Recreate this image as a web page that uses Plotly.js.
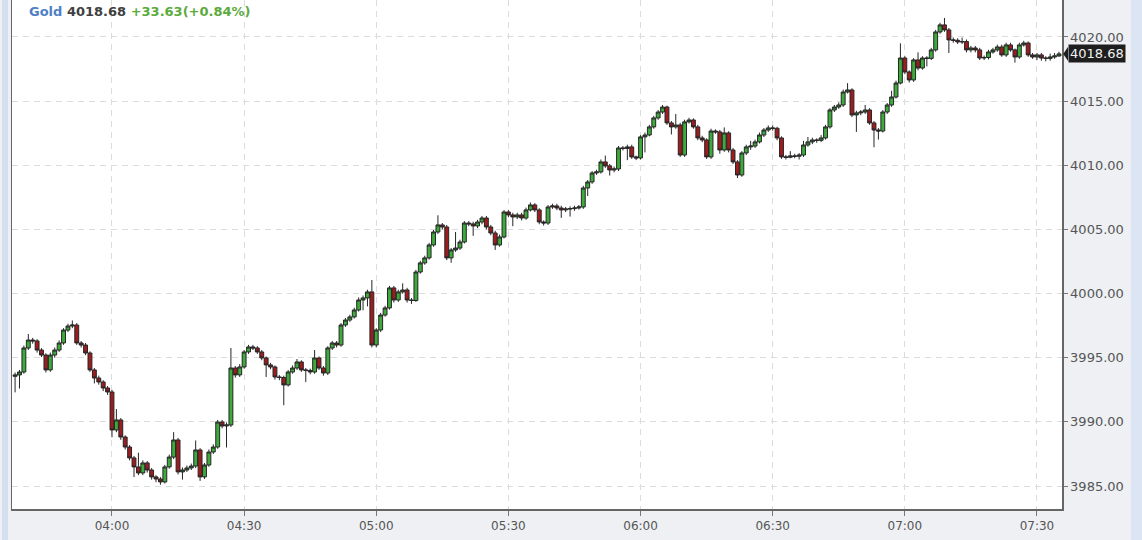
<!DOCTYPE html>
<html>
<head>
<meta charset="utf-8">
<script src="https://cdn.plot.ly/plotly-3.0.1.min.js"></script>
<style>
  html, body { margin: 0; padding: 0; background: #eef0f4; }
  #chart { width: 1142px; height: 540px; }
</style>
</head>
<body>
<div id="chart"></div>
<script>
// ---- data (1-minute candles, 03:38 -> 07:35) ----
const instrument = "Gold";
const lastPrice = 4018.68;
const change = 33.63;
const changePct = 0.84;
const sessionDate = "2025-10-21";
const firstMinute = "03:38";

const openP = [
3993.55,3993.66,3993.89,3995.76,3996.38,3996.31,3995.60,3995.21,3994.05,3995.21,
3995.60,3996.15,3997.16,3997.47,3997.55,3996.15,3995.99,3995.37,3994.05,3993.42,
3993.11,3992.64,3992.33,3989.37,3990.15,3988.82,3988.04,3987.19,3986.49,3986.02,
3986.80,3986.25,3985.71,3985.55,3985.32,3986.49,3987.26,3988.59,3986.10,3986.25,
3986.41,3986.56,3987.81,3985.71,3986.64,3987.65,3988.04,3989.99,3989.68,3989.76,
3994.20,3993.66,3994.28,3995.45,3995.84,3995.76,3995.45,3994.98,3994.44,3994.28,
3993.50,3993.46,3992.88,3993.89,3994.20,3994.67,3994.05,3994.01,3993.89,3994.98,
3994.20,3993.81,3995.76,3996.15,3995.99,3997.55,3997.94,3998.18,3998.72,3999.50,
3999.66,4000.13,3995.99,3997.16,3998.33,3998.88,4000.44,3999.50,4000.13,4000.28,
3999.50,3999.46,4001.68,4002.39,4002.78,4003.79,4004.80,4005.35,4005.19,4002.78,
4003.40,4003.55,4004.02,4005.50,4005.43,4005.27,4005.58,4005.89,4005.19,4004.72,
4003.79,4004.41,4006.36,4006.13,4005.97,4006.13,4005.89,4006.52,4006.91,4006.52,
4005.58,4005.50,4006.75,4006.83,4006.67,4006.52,4006.59,4006.62,4006.67,4006.75,
4008.23,4008.70,4009.40,4009.48,4010.26,4009.95,4009.63,4009.71,4011.35,4011.31,
4011.43,4010.65,4010.57,4012.21,4012.36,4012.99,4013.69,4014.15,4014.54,4013.30,
4012.99,4013.14,4010.80,4013.38,4013.53,4012.99,4012.13,4011.97,4010.65,4012.67,
4012.60,4011.19,4012.52,4011.19,4010.26,4009.24,4010.96,4011.43,4011.50,4011.82,
4012.36,4012.75,4012.91,4012.88,4012.13,4010.65,4010.62,4010.73,4010.70,4010.80,
4011.58,4011.82,4011.97,4011.94,4012.13,4012.99,4014.31,4014.54,4014.70,4015.71,
4015.87,4013.92,4014.08,4014.15,4014.31,4013.30,4012.75,4012.67,4014.15,4014.70,
4015.32,4016.41,4018.36,4017.27,4016.65,4018.21,4017.58,4018.36,4018.33,4018.99,
4020.39,4020.94,4020.55,4019.77,4019.74,4019.61,4019.64,4018.99,4019.14,4018.99,
4018.36,4018.40,4018.83,4018.99,4019.22,4018.60,4019.38,4018.99,4018.44,4019.38,
4019.53,4018.60,4018.44,4018.60,4018.36,4018.33,4018.44,4018.52
];

const closeP = [
3993.66,3993.89,3995.76,3996.38,3996.31,3995.60,3995.21,3994.05,3995.21,3995.60,
3996.15,3997.16,3997.47,3997.55,3996.15,3995.99,3995.37,3994.05,3993.42,3993.11,
3992.64,3992.33,3989.37,3990.15,3988.82,3988.04,3987.19,3986.49,3986.02,3986.80,
3986.25,3985.71,3985.55,3985.32,3986.49,3987.26,3988.59,3986.10,3986.25,3986.41,
3986.56,3987.81,3985.71,3986.64,3987.65,3988.04,3989.99,3989.68,3989.76,3994.20,
3993.66,3994.28,3995.45,3995.84,3995.76,3995.45,3994.98,3994.44,3994.28,3993.50,
3993.46,3992.88,3993.89,3994.20,3994.67,3994.05,3994.01,3993.89,3994.98,3994.20,
3993.81,3995.76,3996.15,3995.99,3997.55,3997.94,3998.18,3998.72,3999.50,3999.66,
4000.13,3995.99,3997.16,3998.33,3998.88,4000.44,3999.50,4000.13,4000.28,3999.50,
3999.46,4001.68,4002.39,4002.78,4003.79,4004.80,4005.35,4005.19,4002.78,4003.40,
4003.55,4004.02,4005.50,4005.43,4005.27,4005.58,4005.89,4005.19,4004.72,4003.79,
4004.41,4006.36,4006.13,4005.97,4006.13,4005.89,4006.52,4006.91,4006.52,4005.58,
4005.50,4006.75,4006.83,4006.67,4006.52,4006.59,4006.62,4006.67,4006.75,4008.23,
4008.70,4009.40,4009.48,4010.26,4009.95,4009.63,4009.71,4011.35,4011.31,4011.43,
4010.65,4010.57,4012.21,4012.36,4012.99,4013.69,4014.15,4014.54,4013.30,4012.99,
4013.14,4010.80,4013.38,4013.53,4012.99,4012.13,4011.97,4010.65,4012.67,4012.60,
4011.19,4012.52,4011.19,4010.26,4009.24,4010.96,4011.43,4011.50,4011.82,4012.36,
4012.75,4012.91,4012.88,4012.13,4010.65,4010.62,4010.73,4010.70,4010.80,4011.58,
4011.82,4011.97,4011.94,4012.13,4012.99,4014.31,4014.54,4014.70,4015.71,4015.87,
4013.92,4014.08,4014.15,4014.31,4013.30,4012.75,4012.67,4014.15,4014.70,4015.32,
4016.41,4018.36,4017.27,4016.65,4018.21,4017.58,4018.36,4018.33,4018.99,4020.39,
4020.94,4020.55,4019.77,4019.74,4019.61,4019.64,4018.99,4019.14,4018.99,4018.36,
4018.40,4018.83,4018.99,4019.22,4018.60,4019.38,4018.99,4018.44,4019.38,4019.53,
4018.60,4018.44,4018.60,4018.36,4018.33,4018.44,4018.52,4018.68
];

const highP = [
3993.85,3994.05,3995.95,3996.85,3996.55,3996.45,3995.75,3995.35,3995.40,3995.80,
3996.35,3997.30,3997.65,3997.90,3997.70,3996.30,3996.15,3995.50,3994.20,3993.60,
3993.25,3992.80,3992.50,3991.00,3990.30,3988.95,3988.20,3987.35,3987.60,3987.00,
3986.95,3986.40,3985.85,3985.70,3986.65,3987.45,3989.20,3988.75,3986.45,3986.60,
3986.75,3988.55,3987.95,3986.80,3987.85,3988.25,3990.15,3990.15,3989.95,3995.76,
3994.35,3994.50,3995.60,3996.00,3996.00,3995.90,3995.60,3995.10,3994.60,3994.40,
3993.65,3993.60,3994.05,3994.40,3994.90,3994.80,3994.20,3994.15,3995.60,3995.10,
3994.35,3995.90,3996.30,3996.30,3997.70,3998.10,3998.35,3998.90,3999.70,3999.85,
4000.30,4001.06,3997.30,3998.50,3999.05,4000.60,4000.60,4000.30,4000.80,4000.45,
3999.65,4001.85,4002.55,4002.95,4003.95,4004.95,4006.10,4005.50,4005.35,4003.55,
4004.80,4004.20,4005.65,4005.65,4005.60,4005.75,4006.05,4006.05,4005.35,4004.90,
4004.60,4006.50,4006.50,4006.30,4006.30,4006.30,4006.70,4007.10,4007.05,4006.65,
4005.70,4006.90,4007.00,4007.00,4006.85,4006.75,4006.80,4006.85,4006.90,4008.40,
4008.85,4009.55,4009.65,4010.45,4010.75,4010.10,4009.90,4011.50,4011.50,4011.60,
4011.60,4010.75,4012.35,4012.55,4013.15,4013.85,4014.30,4014.70,4014.65,4013.45,
4014.00,4013.30,4013.55,4013.70,4013.65,4013.15,4012.30,4012.10,4012.85,4012.80,
4012.75,4012.95,4012.65,4011.35,4010.40,4011.10,4011.60,4011.90,4012.00,4012.55,
4012.90,4013.10,4013.10,4013.00,4012.25,4010.80,4011.10,4010.90,4010.95,4011.90,
4012.20,4012.15,4012.10,4012.35,4013.15,4014.45,4014.70,4014.90,4015.90,4016.40,
4016.00,4014.25,4014.30,4014.70,4014.45,4013.45,4012.90,4014.30,4014.85,4015.80,
4016.60,4019.50,4018.50,4017.40,4018.35,4018.80,4018.50,4018.50,4019.15,4020.55,
4021.10,4021.48,4020.70,4019.95,4019.90,4019.95,4019.80,4019.30,4019.30,4019.15,
4018.55,4019.00,4019.15,4019.40,4019.40,4019.55,4019.55,4019.10,4019.55,4019.70,
4019.65,4018.75,4018.75,4018.75,4018.50,4018.70,4018.75,4018.85
];

const lowP = [
3992.30,3992.60,3993.75,3995.60,3996.10,3995.40,3995.05,3993.85,3993.90,3995.00,
3995.45,3996.00,3997.00,3997.30,3996.00,3995.80,3995.20,3993.90,3993.00,3992.90,
3992.40,3992.10,3988.80,3989.20,3988.60,3987.85,3987.00,3985.70,3985.85,3985.85,
3986.05,3985.50,3985.30,3985.10,3985.20,3986.35,3987.10,3985.90,3985.50,3986.10,
3986.25,3986.40,3985.40,3985.55,3986.50,3987.50,3987.90,3989.50,3988.00,3989.60,
3993.45,3993.50,3994.15,3995.30,3995.60,3995.30,3994.80,3993.50,3994.10,3993.30,
3993.25,3991.30,3992.75,3993.75,3994.05,3993.90,3993.10,3993.70,3993.75,3994.05,
3993.60,3993.65,3995.60,3995.80,3995.85,3997.40,3997.80,3998.05,3998.60,3998.70,
3999.00,3995.80,3995.80,3997.00,3998.20,3998.75,3999.30,3999.35,4000.00,3999.30,
3999.20,3999.35,4001.55,4002.25,4002.65,4003.65,4004.65,4005.00,4002.60,4002.40,
4003.25,4003.40,4003.90,4005.25,4004.50,4005.10,4005.40,4005.00,4004.55,4003.40,
4003.65,4004.30,4005.95,4005.25,4005.80,4005.70,4005.75,4006.40,4006.35,4005.40,
4005.30,4005.35,4006.60,4006.50,4005.90,4006.35,4006.00,4006.45,4006.55,4006.60,
4007.60,4008.55,4009.25,4009.35,4009.80,4009.20,4009.45,4009.55,4011.15,4010.40,
4010.50,4010.40,4010.45,4011.00,4012.25,4012.85,4013.55,4014.00,4013.15,4012.40,
4012.85,4010.65,4010.65,4013.25,4012.85,4011.95,4011.80,4010.50,4010.50,4012.45,
4010.90,4011.05,4011.00,4010.10,4009.00,4009.10,4010.80,4011.20,4011.35,4011.70,
4012.20,4012.60,4012.70,4011.95,4010.50,4010.45,4010.55,4010.55,4010.45,4010.65,
4011.45,4011.65,4011.75,4011.80,4012.00,4012.85,4014.15,4014.40,4014.55,4015.60,
4013.75,4012.60,4013.90,4014.00,4013.15,4011.40,4012.00,4012.55,4014.00,4014.55,
4015.20,4016.30,4017.10,4016.45,4016.50,4017.40,4017.45,4017.70,4018.20,4018.85,
4020.25,4020.40,4018.75,4019.55,4019.45,4019.45,4018.80,4018.80,4018.80,4018.20,
4018.20,4018.25,4018.70,4018.85,4018.45,4018.45,4018.85,4018.00,4018.30,4019.25,
4018.45,4018.30,4018.20,4018.15,4018.10,4018.15,4018.30,4018.45
];

// minute timestamps starting at firstMinute
function pad(n) { return (n < 10 ? "0" : "") + n; }
const startParts = firstMinute.split(":").map(Number);
const times = closeP.map((_, i) => {
  const m = startParts[0] * 60 + startParts[1] + i;
  return sessionDate + " " + pad(Math.floor(m / 60)) + ":" + pad(m % 60);
});

const trace = {
  type: "candlestick",
  x: times,
  open: openP, high: highP, low: lowP, close: closeP,
  increasing: { line: { color: "#262626", width: 1 }, fillcolor: "#3cab3c" },
  decreasing: { line: { color: "#262626", width: 1 }, fillcolor: "#9c1c20" },
  whiskerwidth: 0,
  hoverinfo: "skip",
  showlegend: false
};

const tickFont = { family: "DejaVu Sans, sans-serif", size: 13, color: "#555555" };

const layout = {
  width: 1142, height: 540,
  margin: { l: 12, r: 80, t: 0, b: 31, pad: 0 },
  paper_bgcolor: "#eef0f4",
  plot_bgcolor: "#ffffff",
  showlegend: false,
  boxgap: 0.12,
  boxgroupgap: 0,
  xaxis: {
    type: "date",
    range: [sessionDate + " 03:37:18", sessionDate + " 07:35:41"],
    tickformat: "%H:%M",
    tick0: sessionDate + " 04:00",
    dtick: 1800000,
    showgrid: true, gridcolor: "#dcdcdc", griddash: "6px,5px", gridwidth: 1,
    showline: true, linecolor: "#666666", linewidth: 1.5,
    ticks: "outside", ticklen: 5, tickcolor: "#777777",
    tickfont: { family: "DejaVu Sans, sans-serif", size: 12, color: "#555555" },
    zeroline: false,
    rangeslider: { visible: false },
    fixedrange: true
  },
  yaxis: {
    side: "right",
    range: [3983.21, 4022.88],
    tick0: 3985, dtick: 5,
    tickformat: ".2f",
    showgrid: true, gridcolor: "#dcdcdc", griddash: "6px,5px", gridwidth: 1,
    showline: true, mirror: true, linecolor: "#666666", linewidth: 1.5,
    ticks: "outside", ticklen: 4, tickcolor: "#777777",
    tickfont: tickFont,
    zeroline: false,
    fixedrange: true
  },
  shapes: [
    { type: "rect", xref: "paper", yref: "paper", x0: -0.0095, x1: -0.0038, y0: -0.08, y1: 1.01,
      fillcolor: "#d4dff0", line: { width: 0 }, layer: "above" },
    { type: "rect", xref: "paper", yref: "paper", x0: 1.0657, x1: 1.08, y0: -0.08, y1: 1.01,
      fillcolor: "#dbe5f4", line: { width: 0 }, layer: "above" },
    { type: "path", xref: "paper", yref: "y",
      path: "M 1.0012 " + lastPrice + " L 1.0058 " + (lastPrice + 0.55) + " L 1.0058 " + (lastPrice - 0.55) + " Z",
      fillcolor: "#1e1e1e", line: { width: 0 }, layer: "above" }
  ],
  annotations: [
    {
      xref: "paper", yref: "paper", x: 0.0143, y: 0.978, xanchor: "left", yanchor: "middle",
      showarrow: false,
      font: { family: "DejaVu Sans, sans-serif", size: 13 },
      text: "<b><span style='color:#4f80c6'>" + instrument + "</span> " +
            "<span style='color:#404040'>" + lastPrice.toFixed(2) + "</span> " +
            "<span style='color:#5aab3c'>+" + change.toFixed(2) + "(+" + changePct.toFixed(2) + "%)</span></b>"
    },
    {
      xref: "paper", yref: "y", x: 1.0056, y: lastPrice, xanchor: "left", yanchor: "middle",
      showarrow: false,
      text: lastPrice.toFixed(2),
      font: { family: "DejaVu Sans, sans-serif", size: 13, color: "#f2f2f2" },
      bgcolor: "#1e1e1e", borderpad: 1
    }
  ]
};

Plotly.newPlot("chart", [trace], layout, { staticPlot: true, displayModeBar: false });
</script>
</body>
</html>
